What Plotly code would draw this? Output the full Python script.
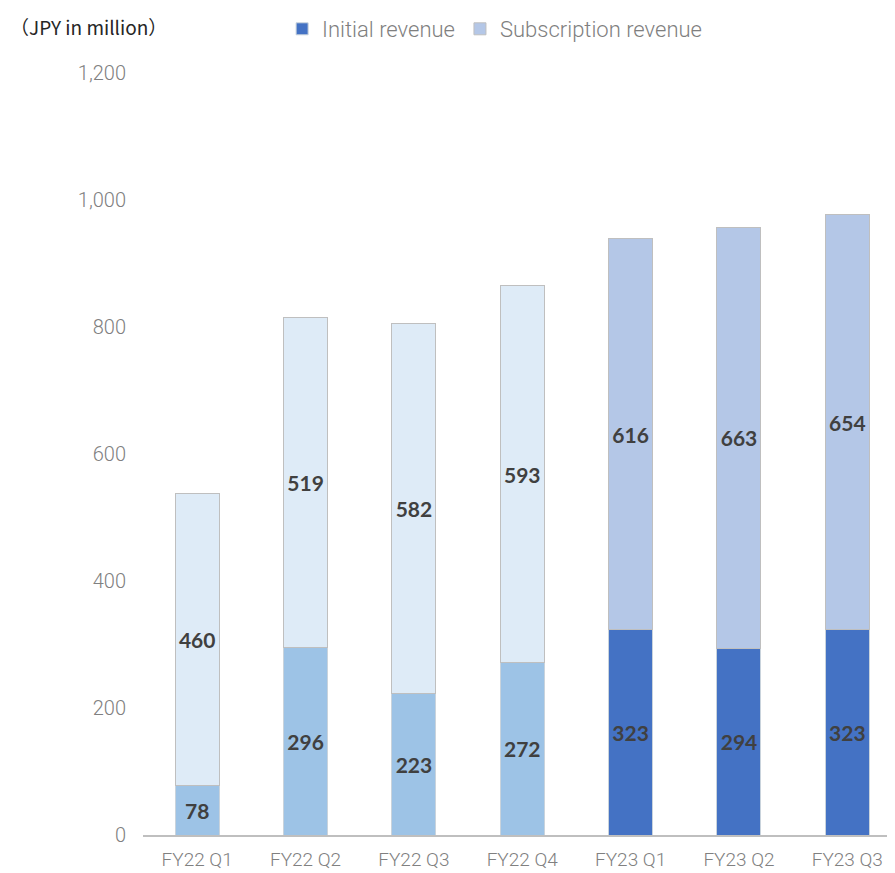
import plotly.graph_objects as go

categories = ["FY22 Q1", "FY22 Q2", "FY22 Q3", "FY22 Q4", "FY23 Q1", "FY23 Q2", "FY23 Q3"]
initial_revenue = [78, 296, 223, 272, 323, 294, 323]
subscription_revenue = [460, 519, 582, 593, 616, 663, 654]
y_ticks = [0, 200, 400, 600, 800, 1000, 1200]

fy22 = slice(0, 4)
fy23 = slice(4, 7)

lbl_font = dict(family="Lato, Open Sans, sans-serif", size=21, color="#404040", weight="bold")
xtick_font = dict(family="Roboto, sans-serif", size=19, color="#808080", weight=300)
ytick_font = dict(family="Roboto, sans-serif", size=20, color="#808080", weight=300)

fig = go.Figure()
common = dict(textposition="inside", insidetextanchor="middle", textfont=lbl_font,
              texttemplate="%{y}", constraintext="none", hoverinfo="x+y")

fig.add_trace(go.Bar(x=categories[fy22], y=initial_revenue[fy22], name="Initial revenue",
                     marker=dict(color="#9DC3E6", line=dict(color="#C9D3DC", width=1)),
                     showlegend=False, legendgroup="init", **common))
fig.add_trace(go.Bar(x=categories[fy23], y=initial_revenue[fy23], name="Initial revenue",
                     marker=dict(color="#4472C4", line=dict(color="#C9D3DC", width=1)),
                     legendgroup="init", **common))
fig.add_trace(go.Bar(x=categories[fy22], y=subscription_revenue[fy22], name="Subscription revenue",
                     marker=dict(color="#DEEBF7", line=dict(color="#BFBFBF", width=1)),
                     showlegend=False, legendgroup="sub", **common))
fig.add_trace(go.Bar(x=categories[fy23], y=subscription_revenue[fy23], name="Subscription revenue",
                     marker=dict(color="#B4C7E7", line=dict(color="#BFBFBF", width=1)),
                     legendgroup="sub", **common))

fig.update_layout(
    barmode="stack",
    bargap=0.594,
    width=887, height=865,
    margin=dict(l=135, r=0, t=64, b=38),
    plot_bgcolor="white", paper_bgcolor="white",
    font=dict(family="Roboto, sans-serif"),
    legend=dict(orientation="h", x=0.185, xanchor="left", y=1.058, yanchor="middle",
                xref="paper", yref="paper", traceorder="normal",
                font=dict(family="Roboto, sans-serif", size=22, color="#7F7F7F", weight=300),
                itemwidth=30, bgcolor="rgba(0,0,0,0)"),
    xaxis=dict(categoryorder="array", categoryarray=categories, range=[-0.5, 6.44],
               showline=True, linecolor="#BFBFBF", linewidth=1.5, showgrid=False,
               ticks="outside", ticklen=6, tickcolor="rgba(0,0,0,0)", tickfont=xtick_font),
    yaxis=dict(range=[0, 1200], tickvals=y_ticks, tickformat=",d", showgrid=False,
               zeroline=False, showline=False, ticks="outside", ticklen=12,
               tickcolor="rgba(0,0,0,0)", tickfont=ytick_font),
    annotations=[dict(text="（JPY in million）", xref="paper", yref="paper",
                      x=-135/752, y=(835 - 25) / 763, xanchor="left", yanchor="middle",
                      showarrow=False,
                      font=dict(family="Noto Sans CJK JP, sans-serif", size=19, color="#262626"))],
)

fig.write_html("out.html")
